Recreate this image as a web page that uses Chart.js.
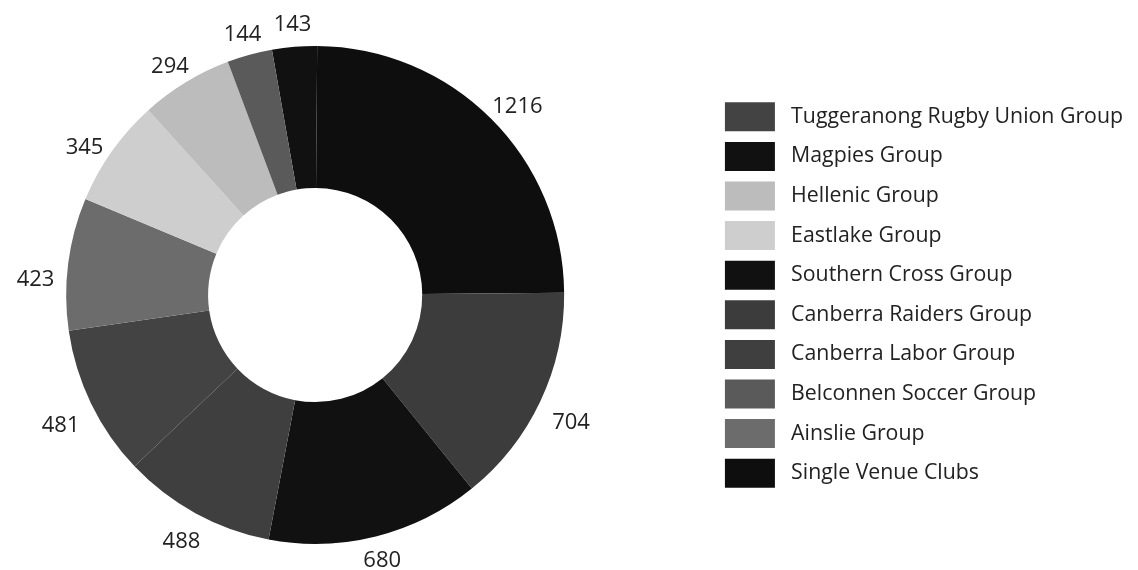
<!DOCTYPE html>
<html>
<head>
<meta charset="utf-8">
<script src="https://cdn.jsdelivr.net/npm/chart.js@4.4.0/dist/chart.umd.min.js"></script>
<style>
  html, body { margin: 0; padding: 0; background: #fff; overflow: hidden; }
  /* canvas runs a little past the left edge so the ring sits where the original has it */
  #donutChart { position: absolute; left: -84px; top: 0; }
</style>
</head>
<body>
<canvas id="donutChart" width="1226" height="570"></canvas>
<script>
// slices, clockwise, starting just left of 12 o'clock
const groups = [
    'Magpies Group',
    'Single Venue Clubs',
    'Canberra Raiders Group',
    'Southern Cross Group',
    'Canberra Labor Group',
    'Tuggeranong Rugby Union Group',
    'Ainslie Group',
    'Eastlake Group',
    'Hellenic Group',
    'Belconnen Soccer Group'
];
const venues = [143, 1216, 704, 680, 488, 481, 423, 345, 294, 144];
const shades = ['#111111', '#0e0e0e', '#3c3c3c', '#111111', '#3f3f3f', '#434343', '#6c6c6c', '#cecece', '#bcbcbc', '#5a5a5a'];

// order the legend lists them in
const legendOrder = [
    'Tuggeranong Rugby Union Group',
    'Magpies Group',
    'Hellenic Group',
    'Eastlake Group',
    'Southern Cross Group',
    'Canberra Raiders Group',
    'Canberra Labor Group',
    'Belconnen Soccer Group',
    'Ainslie Group',
    'Single Venue Clubs'
];

Chart.defaults.font.family = '"Open Sans", "Noto Sans", sans-serif';
Chart.defaults.color = '#222';

// value labels outside each slice
const sliceLabels = {
    id: 'sliceLabels',
    afterDatasetsDraw(chart) {
        const ctx = chart.ctx;
        const meta = chart.getDatasetMeta(0);
        ctx.save();
        ctx.font = '22px "Open Sans"';
        ctx.fillStyle = '#222';
        ctx.textAlign = 'center';
        ctx.textBaseline = 'middle';
        meta.data.forEach((arc, i) => {
            const p = arc.getProps(['x', 'y', 'startAngle', 'endAngle', 'outerRadius']);
            const mid = (p.startAngle + p.endAngle) / 2;
            const cx = Math.cos(mid), sy = Math.sin(mid);
            const text = String(venues[i]);
            const w = ctx.measureText(text).width;
            const d = p.outerRadius + 13 + Math.abs(cx) * w / 2 + Math.abs(sy) * 9;
            // side labels sit a bit lower, as in the original
            const drop = sy < 0 ? 20 * Math.abs(cx) : 12 * Math.abs(cx) - 4;
            ctx.fillText(text, p.x + cx * d, p.y + sy * d + drop);
        });
        ctx.restore();
    }
};

const ctx = document.getElementById('donutChart').getContext('2d');
new Chart(ctx, {
    type: 'doughnut',
    data: {
        labels: groups,
        datasets: [{
            data: venues,
            backgroundColor: shades,
            borderWidth: 0
        }]
    },
    options: {
        responsive: false,
        animation: false,
        rotation: -10,
        radius: 249,
        cutout: '43%',
        layout: {
            padding: { left: 0, right: 9, top: 30, bottom: 10 }
        },
        plugins: {
            tooltip: { enabled: false },
            legend: {
                position: 'right',
                labels: {
                    boxWidth: 50,
                    boxHeight: 29,
                    padding: 10.6,
                    font: { size: 21.3 },
                    color: '#222',
                    generateLabels(chart) {
                        const base = Chart.overrides.doughnut.plugins.legend.labels.generateLabels(chart);
                        return legendOrder.map(name => {
                            const item = base[groups.indexOf(name)];
                            return Object.assign({}, item, {
                                text: ' ' + item.text,
                                lineWidth: 0,
                                strokeStyle: item.fillStyle
                            });
                        });
                    }
                }
            }
        }
    },
    plugins: [sliceLabels]
});
</script>
</body>
</html>
